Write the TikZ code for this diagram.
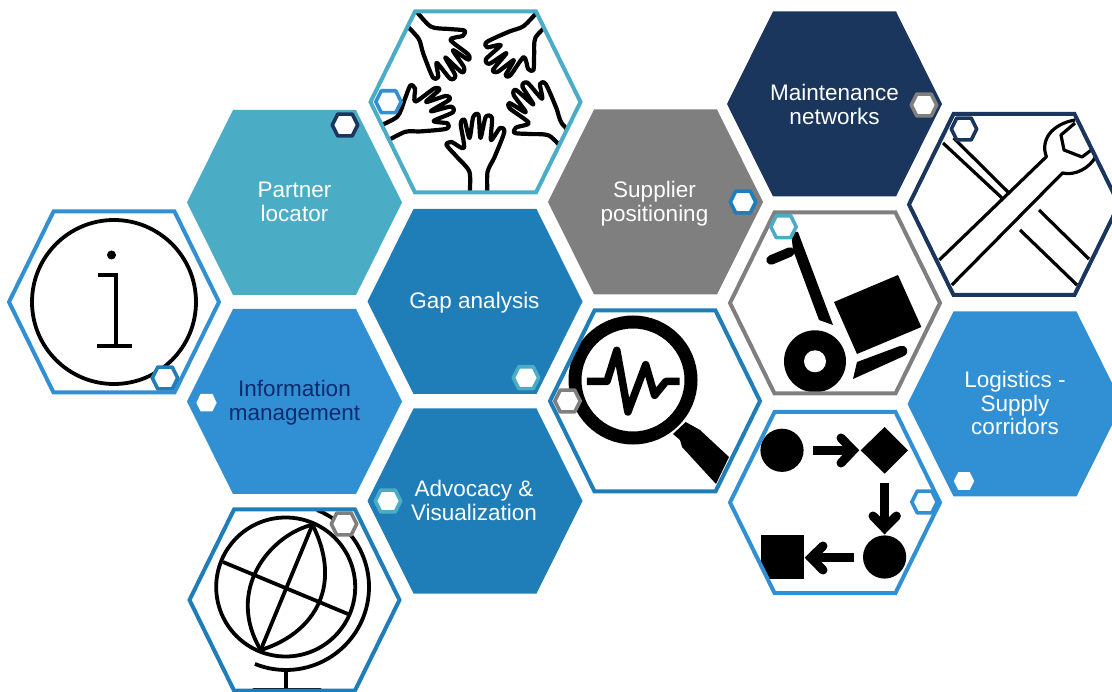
\documentclass[tikz,border=0pt]{standalone}
\usepackage{fontspec}
\setmainfont{Liberation Sans}
\definecolor{hteal}{HTML}{4BACC6}
\definecolor{hblue}{HTML}{3190D4}
\definecolor{hmid}{HTML}{1F7DB8}
\definecolor{hnavy}{HTML}{1A365D}
\definecolor{hgrey}{HTML}{7F7F7F}
\definecolor{htxt}{HTML}{0B2A6E}
\newcommand\hexfull{(-107.5,0) -- (-61.5,-92.5) -- (61.5,-92.5) -- (107.5,0) -- (61.5,92.5) -- (-61.5,92.5) -- cycle}
\newcommand\hexline{(-105,0) -- (-60.5,-90.5) -- (60.5,-90.5) -- (105,0) -- (60.5,90.5) -- (-60.5,90.5) -- cycle}
\newcommand\handpath{plot[smooth,tension=.45] coordinates {(-9,6) (-9,-18) (-21.5,-33) (-32,-45) (-27,-48) (-14.5,-42) (-17.8,-66) (-14,-70) (-9,-52) (-5.3,-73) (0,-75) (2,-52) (7.2,-73) (13.5,-72) (12.5,-50) (21.5,-62) (25.8,-58) (16.1,-33) (9,-18) (9,6)}}
\newcommand\smallhex[3]{\draw[smallborder,draw=#1,shift={(#2,#3)},scale=.118] \hexfull;}
\tikzset{
  x=1pt,y=-1pt,
  hexstroke/.style={line width=4pt,line join=miter},
  smallborder/.style={fill=white,line width=3.6pt,line join=round},
  smallplain/.style={fill=white},
  label/.style={font=\fontsize{22.5}{24}\selectfont,text=white,align=center,inner sep=0pt},
  icon/.style={line width=3.8pt,draw=black,line cap=butt,line join=round},
  handline/.style={line width=4.2pt,draw=black,line cap=butt,line join=round},
  thinicon/.style={line width=3.2pt,draw=black,line cap=butt,line join=round},
  flowarrow/.style={line width=9pt,draw=black,line cap=butt},
  flowhead/.style={line width=9pt,draw=black,line cap=round,line join=miter},
}
\begin{document}
\begin{tikzpicture}
\useasboundingbox (0,0) rectangle (1112,692);
\clip (0,0) rectangle (1112,692);

% filled hexagons
\fill[hteal,shift={(294.5,202.5)}] \hexfull;
\fill[hmid,shift={(475,301.5)}] \hexfull;
\fill[hblue,shift={(294.5,401.5)}] \hexfull;
\fill[hmid,shift={(475,501)}] \hexfull;
\fill[hgrey,shift={(655.5,202)}] \hexfull;
\fill[hnavy,shift={(834.5,104)}] \hexfull;
\fill[hblue,shift={(1015,404)}] \hexfull;

% ---- info icon
\fill[white,shift={(114,302)}] \hexline;
\draw[icon] (114,302) circle[radius=82];
\fill (111.5,255) circle[radius=4.5];
\draw[icon,line join=miter] (98,275) -- (116,275) -- (116,346);
\draw[icon] (97,346) -- (132,346);
\draw[hblue,hexstroke,shift={(114,302)}] \hexline;

% ---- hands
\fill[white,shift={(475.5,102)}] \hexline;
\begin{scope}
\clip[shift={(475.5,102)}] \hexline;
\begin{scope}[shift={(478.5,190)}] \draw[handline] \handpath; \end{scope}
\begin{scope}[shift={(386,132)},rotate=-63,scale=.95] \draw[handline] \handpath; \end{scope}
\begin{scope}[shift={(413,20)},rotate=-137,scale=.95] \draw[handline] \handpath; \end{scope}
\begin{scope}[shift={(541,20)},rotate=136,scale=.92] \draw[handline] \handpath; \end{scope}
\begin{scope}[shift={(568,142)},rotate=45,scale=.98] \draw[handline] \handpath; \end{scope}
\end{scope}
\draw[hteal,hexstroke,shift={(475.5,102)}] \hexline;

% ---- globe
\fill[white,shift={(294.5,600)}] \hexline;
\draw[icon] (285.7,587) circle[radius=69.5];
\draw[icon] (312.5,524.7) -- (260.7,650);
\draw[icon] (223,562) -- (348,614);
\draw[icon] (312.5,524.7) .. controls (270,535) and (225,590) .. (260.7,650);
\draw[icon] (312.5,524.7) .. controls (345,590) and (310,635) .. (260.7,650);
\draw[icon] plot[smooth,domain=-68:112,samples=40] ({286+83*cos(\x)},{587+83*sin(\x)});
\draw[icon] (286,670) -- (286,689);
\draw[icon,line width=4pt,line cap=round] (254,690) -- (320,690);
\draw[hmid,hexstroke,shift={(294.5,600)}] \hexline;

% ---- wrench
\fill[white,shift={(1014,204.5)}] \hexline;
\begin{scope}
\clip[shift={(1014,204.5)}] \hexline;
\draw[thinicon] (939.3,260) -- (1046.4,156.7) .. controls (1040,140) and (1052,124) .. (1075,120);
\draw[thinicon] (951.8,285) -- (1062.5,173) .. controls (1075,176) and (1090,168) .. (1096,156);
\draw[thinicon] (1075,123) -- (1061,135) -- (1064,150) -- (1082,157) -- (1094,148);
\draw[thinicon] (943,143) -- (1002,198);
\draw[thinicon] (953.6,138) -- (1008,192);
\draw[thinicon] (1039,210) -- (1089,259);
\draw[thinicon] (1020,230) -- (1077,285);
\end{scope}
\draw[hnavy,hexstroke,shift={(1014,204.5)}] \hexline;

% ---- trolley
\fill[white,shift={(835,303)}] \hexline;
\draw[black,line width=9.5pt,line cap=round] (771,260) -- (790,252);
\fill (791,232) -- (798,232) -- (833,325) -- (819,320) -- (793,250) -- cycle;
\fill (834,302) -- (898,275) -- (921.4,327) -- (857,354) -- cycle;
\fill (815,361.3) circle[radius=31];
\fill[white] (815,361.3) circle[radius=11];
\fill (857,362) -- (900,346) .. controls (906,344) and (911,352) .. (904,356) -- (853,379) -- cycle;
\draw[hgrey,hexstroke,shift={(835,303)}] \hexline;

% ---- magnifier
\fill[white,shift={(655,401)}] \hexline;
\begin{scope}
\clip[shift={(655,401)}] \hexline;
\draw[black,line width=13pt] (633,380) circle[radius=58];
\fill (685.7,422) -- (700,430) -- (729,457) -- (716,484) -- (682,447) -- (680,440) -- (673,434) -- cycle;
\end{scope}
\draw[black,line width=7.5pt,line join=round,line cap=butt] (586.8,381.3) -- (607,381.3) -- (616.8,350.3) -- (627.9,412) -- (645.7,364.7) -- (654.6,395.3) -- (666,381.3) -- (679.6,381.3);
\draw[hmid,hexstroke,shift={(655,401)}] \hexline;

% ---- flow
\fill[white,shift={(835,502.5)}] \hexline;
\begin{scope}
\clip[shift={(835,502.5)}] \hexline;
\fill (782,450.3) circle[radius=21.6];
\draw[flowarrow] (812.5,450.3) -- (851,450.3);
\draw[flowhead] (841,438) -- (853,450.3) -- (841,463);
\fill (860.7,450.3) -- (884.6,427) -- (908,450.3) -- (884.6,473.7) -- cycle;
\draw[flowarrow] (884.6,483) -- (884.6,527);
\draw[flowhead] (873,516) -- (884.6,528) -- (896.4,516);
\fill (884.6,557) circle[radius=21.6];
\fill (760.7,535.3) rectangle (803.6,578.7);
\draw[flowarrow] (853.6,557.7) -- (812,557.7);
\draw[flowhead] (823,546) -- (811,557.7) -- (823,570);
\end{scope}
\draw[hblue,hexstroke,shift={(835,502.5)}] \hexline;

% labels
\node[label] (partner) at (294.5,202) {Partner\\locator};
\node[label] (gap) at (474.5,302.5) {Gap analysis};
\node[label,text=htxt] (infomgmt) at (294.5,403) {Information\\management};
\node[label] (advocacy) at (474,500) {Advocacy \&\\Visualization};
\node[label] (supplier) at (654.5,204) {Supplier\\positioning};
\node[label] (maintenance) at (834.5,104) {Maintenance\\networks};
\node[label,font=\fontsize{22.5}{23.6}\selectfont] (logistics) at (1015,403) {Logistics -\\Supply\\corridors};

% small hexagons
\smallhex{hnavy}{345}{125}
\smallhex{hblue}{388.5}{101.7}
\smallhex{hmid}{165}{378}
\smallhex{hteal}{526}{377.7}
\smallhex{hteal}{388}{501}
\smallhex{hgrey}{344}{524}
\smallhex{hmid}{743}{202}
\smallhex{hgrey}{924}{105}
\smallhex{hnavy}{964}{129}
\smallhex{hteal}{783.5}{226.7}
\smallhex{hgrey}{567.5}{401}
\smallhex{hblue}{924.5}{502}
\fill[smallplain,shift={(206.5,402.7)},scale=.095] \hexfull;
\fill[smallplain,shift={(964,481)},scale=.095] \hexfull;
\end{tikzpicture}
\end{document}
